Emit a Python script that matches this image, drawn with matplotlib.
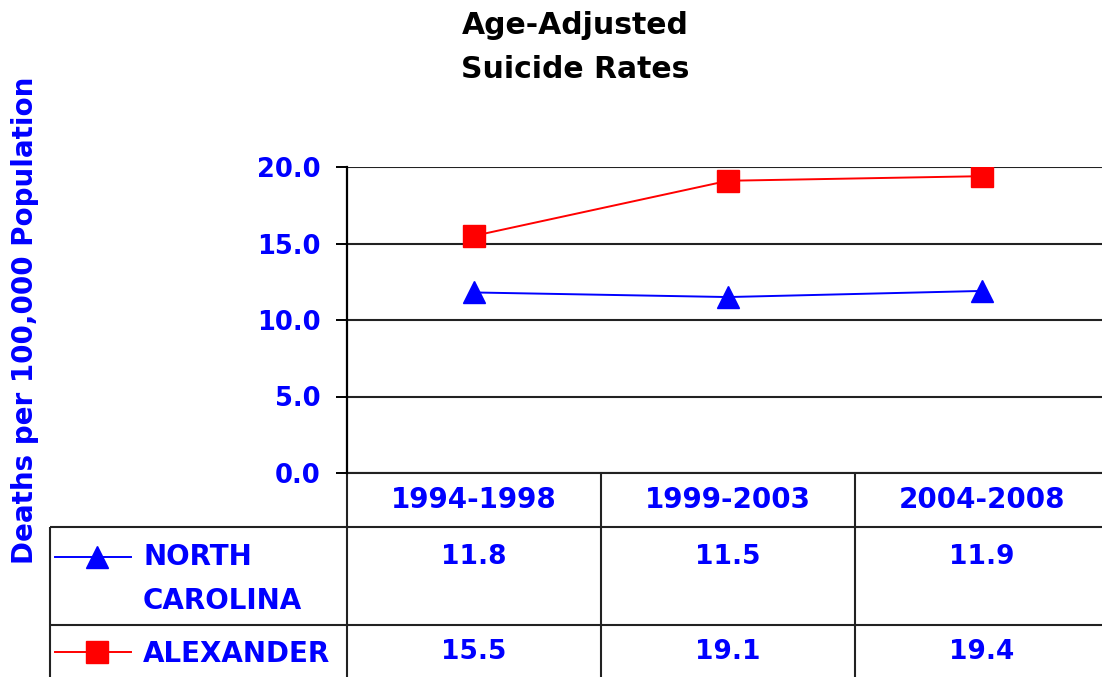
import numpy as np
import matplotlib
matplotlib.use('Agg')
import matplotlib.pyplot as plt
from matplotlib.transforms import blended_transform_factory

periods = ['1994-1998', '1999-2003', '2004-2008']
nc_rates = [11.8, 11.5, 11.9]
alex_rates = [15.5, 19.1, 19.4]
series_names = ['NORTH\nCAROLINA', 'ALEXANDER']
yticks = [0.0, 5.0, 10.0, 15.0, 20.0]
title_lines = ['Age-Adjusted', 'Suicide Rates']

W, H = 1102, 677
blue = '#0000ff'
red = '#ff0000'
fnt = 'DejaVu Sans'

fig = plt.figure(figsize=(W / 100, H / 100), dpi=100)
fig.patch.set_facecolor('white')

# overlay in pixel coords for the table grid
ov = fig.add_axes([0, 0, 1, 1])
ov.set_xlim(0, W)
ov.set_ylim(H, 0)
ov.axis('off')

ax = fig.add_axes([347 / W, 1 - 473 / H, (1109 - 347) / W, (473 - 167) / H])
x = np.arange(len(periods))
ax.plot(x, nc_rates, color=blue, lw=1.4, marker='^', ms=16, mec=blue, mfc=blue, zorder=3)
ax.plot(x, alex_rates, color=red, lw=1.4, marker='s', ms=15.5, mec=red, mfc=red, zorder=3)
ax.set_xlim(-0.5, 2.5)
ax.set_ylim(0, 20)
ax.set_yticks(yticks)
ax.set_yticklabels(['%.1f' % v for v in yticks], color=blue, fontsize=18.5, fontweight='bold', family=fnt)
ax.set_xticks([])
ax.tick_params(axis='y', length=8, width=1.4, color='black', pad=11)
for v in yticks:
    ax.axhline(v, color='#222222', lw=1.5, zorder=1)
for s in ['top', 'right', 'bottom']:
    ax.spines[s].set_visible(False)
ax.spines['left'].set_linewidth(1.6)
ax.patch.set_alpha(0)

for i, t in enumerate(title_lines):
    fig.text(575 / W, 1 - (25 + 45 * i) / H, t, ha='center', va='center',
             fontsize=21.5, fontweight='bold', family=fnt)
fig.text(25 / W, 1 - 320 / H, 'Deaths per 100,000 Population', rotation=90, ha='center',
         va='center', color=blue, fontsize=20, fontweight='bold', family=fnt)

# table lines
lk = dict(color='#222222', lw=1.5, solid_capstyle='butt')
ov.plot([347, W], [473, 473], **lk)
ov.plot([50, W], [527, 527], **lk)
ov.plot([50, W], [625, 625], **lk)
ov.plot([50, 50], [527, H], **lk)
for xb in [347, 601, 855]:
    ov.plot([xb, xb], [473, H], **lk)

tr = blended_transform_factory(ax.transData, ov.transData)
tk = dict(ha='center', va='center', color=blue, fontweight='bold', family=fnt, transform=tr)
for i, p in enumerate(periods):
    ax.text(i, 500, p, clip_on=False, fontsize=20, **tk)
    ax.text(i, 557, '%.1f' % nc_rates[i], clip_on=False, fontsize=19, **tk)
    ax.text(i, 652, '%.1f' % alex_rates[i], clip_on=False, fontsize=19, **tk)

# legend keys inside table
ov.plot([55, 131], [557, 557], color=blue, lw=1.4)
ov.plot([97], [557], marker='^', ms=16, color=blue)
ov.plot([55, 131], [652, 652], color=red, lw=1.4)
ov.plot([97], [652], marker='s', ms=15.5, color=red)
for j, line in enumerate(series_names[0].split('\n')):
    ov.text(143, 557 + 44 * j, line, ha='left', va='center', color=blue, fontsize=20,
            fontweight='bold', family=fnt)
ov.text(143, 654, series_names[1], ha='left', va='center', color=blue, fontsize=20,
        fontweight='bold', family=fnt)

fig.savefig('out.png', dpi=100, facecolor='white')
